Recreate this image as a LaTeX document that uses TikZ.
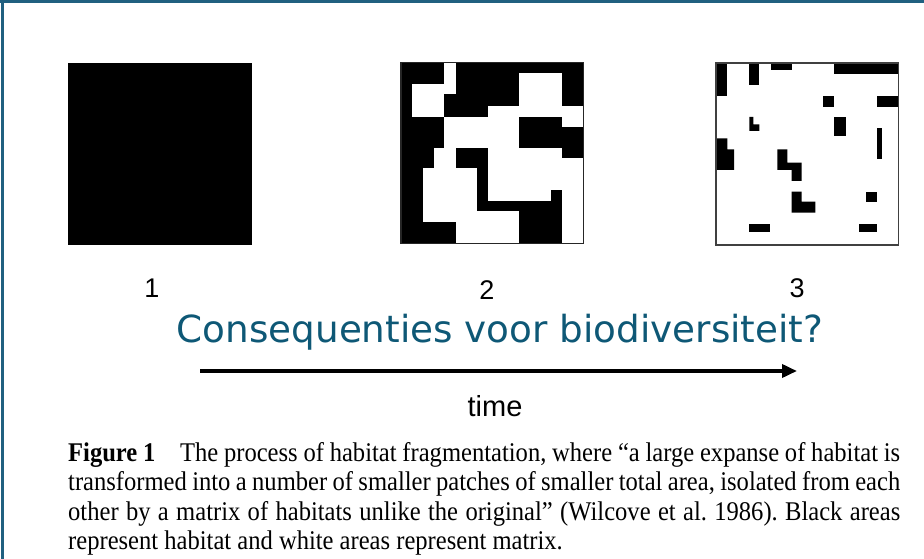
\documentclass[tikz,border=0pt]{standalone}
\usepackage{fontspec}
\setmainfont{Liberation Serif}
\newfontfamily\labelfont{Liberation Sans}
\newfontfamily\titlefont{DejaVu Sans}
\newfontfamily\capfont[FakeStretch=0.91]{Liberation Serif}
\usetikzlibrary{arrows.meta}
\definecolor{frameteal}{RGB}{32,96,128}
\definecolor{titleteal}{RGB}{14,88,118}
\tikzset{
  frameline/.style={draw=frameteal,line width=2.6pt},
  habitat/.style={fill=black},
  matrixarea/.style={fill=white},
  squareedge/.style={draw=black!85,line width=1.6pt},
  numlabel/.style={font=\labelfont\fontsize{27}{32}\selectfont,inner sep=0pt},
  capline/.style={font=\capfont\fontsize{27}{32}\selectfont,inner sep=0pt,anchor=base west},
}
\frenchspacing
\begin{document}
\begin{tikzpicture}[x=1pt,y=-1pt]
\useasboundingbox (0,0) rectangle (924,559);
\fill[white] (0,0) rectangle (924,559);

% slide frame (top and left rules)
\draw[frameline] (0,1.3) -- (924,1.3);
\draw[frameline] (2.3,0) -- (2.3,559);

% stage 1: continuous habitat
\fill[habitat] (68,63) rectangle (252,245);

% stage 2: habitat broken up by matrix
\begin{scope}[shift={(395,55)},scale=1/3]
  \fill[habitat] (18,22) rectangle (565,565);
  \fill[matrixarea] (148,22) rectangle (182,118);
  \fill[matrixarea] (52,88) rectangle (148,185);
  \fill[matrixarea] (372,55) rectangle (500,185);
  \fill[matrixarea] (278,152) rectangle (372,438);
  \fill[matrixarea] (148,185) rectangle (372,278);
  \fill[matrixarea] (500,152) rectangle (565,215);
  \fill[matrixarea] (118,278) rectangle (182,340);
  \fill[matrixarea] (85,340) rectangle (245,500);
  \fill[matrixarea] (182,468) rectangle (372,565);
  \fill[matrixarea] (278,278) rectangle (468,438);
  \fill[matrixarea] (468,278) rectangle (500,405);
  \fill[matrixarea] (468,310) rectangle (565,405);
  \fill[matrixarea] (500,310) rectangle (565,565);
  \draw[squareedge] (18,22) rectangle (565,565);
\end{scope}

% stage 3: small isolated remnants
\begin{scope}[shift={(710,55)},scale=1/3]
  \fill[matrixarea] (18,24) rectangle (565,570);
  \fill[habitat] (18,24) rectangle (52,122);
  \fill[habitat] (118,24) rectangle (148,90);
  \fill[habitat] (182,24) rectangle (245,45);
  \fill[habitat] (372,24) rectangle (565,58);
  \fill[habitat] (340,122) rectangle (372,155);
  \fill[habitat] (500,122) rectangle (565,155);
  \fill[habitat] (118,186) -- (130,186) -- (130,208) -- (148,208) -- (148,228) -- (118,228) -- cycle;
  \fill[habitat] (372,186) rectangle (408,242);
  \fill[habitat] (500,218) rectangle (515,313);
  \fill[habitat] (18,250) -- (52,250) -- (52,283) -- (72,283) -- (72,345) -- (18,345) -- cycle;
  \fill[habitat] (202,283) -- (232,283) -- (232,323) -- (275,323) -- (275,378) -- (245,378) -- (245,345) -- (202,345) -- cycle;
  \fill[habitat] (245,410) -- (275,410) -- (275,440) -- (316,440) -- (316,473) -- (245,473) -- cycle;
  \fill[habitat] (468,410) rectangle (500,440);
  \fill[habitat] (118,508) rectangle (180,530);
  \fill[habitat] (448,508) rectangle (500,530);
  \draw[squareedge,draw=black!75] (18,24) rectangle (565,570);
\end{scope}

% stage numbers
\node[numlabel] (n1) at (152,288) {1};
\node[numlabel] (n2) at (487,290) {2};
\node[numlabel] (n3) at (797,288) {3};

% question
\node[inner sep=0pt,text=titleteal,font=\titlefont\fontsize{37.3}{44}\selectfont]
  (question) at (500,332) {Consequenties voor biodiversiteit?};

% time axis
\coordinate (tstart) at (200,371);
\coordinate (tend) at (797,371);
\draw[line width=3.6pt,-{Triangle[length=15pt,width=13pt]}] (tstart) -- (tend);
\node[inner sep=0pt,font=\labelfont\fontsize{29}{34}\selectfont] (time) at (495,406) {time};

% figure caption
\node[capline] (cap1) at (68,461) {\makebox[832pt][s]{\textbf{Figure 1}\hspace{0.7em} The process of habitat fragmentation, where “a large expanse of habitat is}};
\node[capline] (cap2) at (68,490.5) {\makebox[832pt][s]{transformed into a number of smaller patches of smaller total area, isolated from each}};
\node[capline] (cap3) at (68,520) {\makebox[832pt][s]{other by a matrix of habitats unlike the original” (Wilcove et al. 1986). Black areas}};
\node[capline] (cap4) at (68,549.5) {represent habitat and white areas represent matrix.};
\end{tikzpicture}
\end{document}
